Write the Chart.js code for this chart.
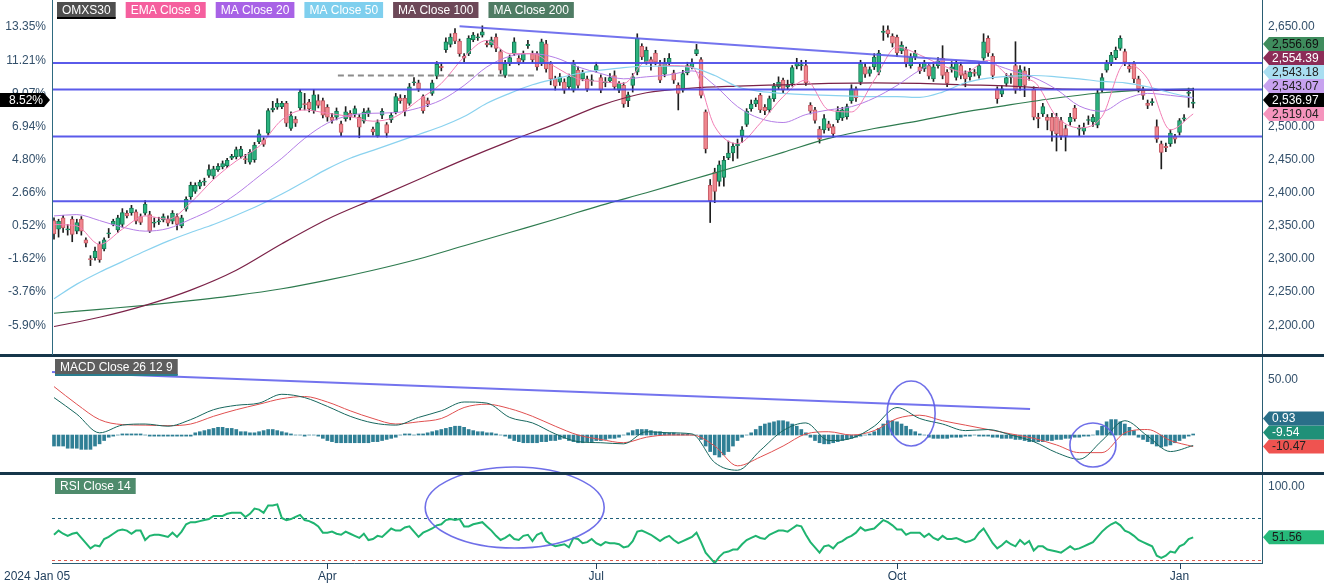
<!DOCTYPE html>
<html>
<head>
<meta charset="utf-8">
<script src="https://cdn.jsdelivr.net/npm/chart.js@4.4.1/dist/chart.umd.min.js"></script>
<style>
html, body { margin: 0; padding: 0; background: #fff; }
#wrap { position: relative; width: 1324px; height: 584px; }
</style>
</head>
<body>
<div id="wrap"><canvas id="chart" width="1324" height="584"></canvas></div>
<script>
// --- daily OMXS30 candles, 2024-01-05 .. 2025-01 (index = trading day) ---
const opens = [
2358,2345,2362,2344,2360,2342,2360,2329,2300,2302, 2322,2315,2338,2352,2344,2352,2369,2370,2371,2364,
2369,2367,2354,2356,2359,2360,2357,2364,2350,2375, 2394,2402,2410,2416,2426,2425,2435,2439,2441,2452,
2454,2455,2451,2446,2450,2477,2480,2490,2525,2529, 2530,2535,2497,2511,2528,2534,2537,2524,2539,2539,
2529,2514,2514,2504,2512,2520,2519,2514,2508,2519, 2496,2486,2517,2503,2510,2522,2543,2543,2535,2566,
2566,2545,2539,2550,2576,2591,2616,2624,2641,2629, 2606,2610,2631,2634,2638,2626,2623,2635,2613,2577,
2595,2610,2603,2600,2622,2610,2610,2595,2625,2594, 2572,2567,2567,2560,2555,2585,2572,2572,2569,2585,
2574,2566,2569,2577,2555,2562,2539,2562,2582,2621, 2597,2601,2611,2592,2579,2596,2581,2562,2555,2581,
2590,2610,2601,2522,2411,2431,2417,2423,2453,2460, 2471,2486,2503,2527,2534,2547,2529,2525,2542,2560,
2570,2560,2565,2591,2592,2592,2532,2525,2496,2495, 2504,2500,2510,2513,2515,2539,2557,2567,2590,2580,
2590,2582,2642,2646,2636,2635,2614,2616,2592,2605, 2590,2587,2592,2572,2592,2603,2582,2586,2574,2592,
2580,2575,2582,2577,2603,2633,2606,2557,2549,2565, 2574,2592,2560,2584,2575,2557,2514,2519,2514,2514,
2514,2509,2497,2507,2528,2496,2493,2509,2507,2502, 2555,2585,2595,2604,2618,2613,2591,2595,2572,2557,
2535,2536,2500,2474,2470,2474,2485,2491,2511,2550, 2535
];
const closes = [
2337.85,2357,2347,2345,2337,2355,2342,2324,2299,2312, 2299,2329,2339,2357,2362,2370,2365,2377,2357,2355,
2383,2342,2355,2357,2364,2354,2369,2352,2362,2390, 2411,2411,2416,2417,2435,2436,2440,2444,2449,2455,
2465,2466,2450,2461,2472,2489,2473,2524,2528,2535, 2535,2505,2516,2505,2552,2533,2527,2548,2532,2517,
2514,2509,2523,2491,2522,2514,2527,2499,2522,2524, 2492,2506,2523,2490,2517,2545,2539,2524,2560,2567,
2557,2524,2534,2566,2594,2589,2628,2635,2629,2610, 2603,2633,2638,2635,2643,2623,2631,2618,2585,2595,
2604,2628,2597,2610,2624,2601,2590,2628,2587,2572, 2561,2575,2555,2575,2595,2562,2581,2557,2570,2592,
2555,2567,2574,2560,2565,2534,2548,2575,2633,2605, 2615,2596,2597,2570,2596,2603,2570,2550,2580,2592,
2596,2616,2547,2466,2388,2402,2442,2449,2460,2470, 2473,2495,2523,2534,2540,2525,2524,2542,2561,2567,
2555,2563,2589,2596,2592,2566,2523,2509,2481,2512, 2498,2489,2524,2525,2530,2557,2543,2595,2579,2586,
2605,2611,2643,2640,2626,2611,2623,2595,2605,2611, 2584,2596,2576,2590,2599,2577,2565,2590,2596,2577,
2572,2582,2580,2592,2628,2611,2577,2542,2557,2574, 2577,2555,2586,2562,2577,2514,2512,2530,2509,2493,
2489,2486,2486,2514,2512,2496,2499,2509,2514,2550, 2574,2596,2608,2615,2633,2597,2587,2572,2557,2547,
2532,2537,2481,2461,2468,2490,2481,2509,2513,2552, 2536.97
];
const highs = [
2362,2360,2366,2352,2364,2360,2364,2332,2305,2318, 2326,2332,2346,2360,2366,2376,2373,2381,2374,2368,
2388,2372,2362,2363,2368,2365,2373,2368,2366,2394, 2416,2415,2419,2422,2442,2440,2444,2448,2452,2458,
2469,2470,2458,2465,2476,2495,2483,2527,2538,2542, 2538,2538,2522,2515,2556,2550,2541,2556,2548,2543,
2533,2520,2528,2508,2530,2524,2531,2518,2527,2528, 2499,2510,2527,2506,2521,2550,2548,2547,2565,2574,
2570,2548,2543,2570,2598,2596,2634,2640,2648,2632, 2610,2637,2642,2640,2652,2630,2635,2640,2616,2600,
2608,2634,2607,2614,2630,2614,2613,2632,2630,2598, 2576,2580,2572,2579,2600,2590,2585,2576,2578,2597,
2578,2574,2580,2584,2568,2566,2552,2580,2640,2625, 2620,2605,2615,2600,2603,2610,2585,2566,2585,2597,
2602,2624,2604,2525,2420,2437,2448,2455,2478,2475, 2481,2500,2527,2540,2543,2550,2533,2546,2565,2575,
2573,2570,2592,2603,2600,2600,2536,2529,2500,2518, 2508,2503,2530,2529,2534,2563,2560,2600,2595,2590,
2610,2615,2652,2652,2640,2638,2628,2620,2610,2615, 2594,2600,2595,2594,2604,2622,2586,2598,2600,2597,
2584,2588,2586,2597,2640,2637,2610,2560,2562,2580, 2580,2628,2592,2590,2588,2560,2520,2535,2518,2520,
2520,2514,2502,2520,2532,2502,2505,2516,2518,2555, 2580,2600,2612,2620,2637,2617,2596,2598,2576,2560,
2540,2542,2510,2478,2475,2495,2488,2512,2518,2558, 2558
];
const lows = [
2330,2333,2340,2336,2326,2338,2336,2318,2290,2298, 2295,2312,2332,2350,2340,2348,2362,2366,2353,2352,
2366,2340,2348,2352,2356,2350,2353,2344,2347,2372, 2390,2399,2406,2411,2423,2421,2432,2436,2438,2450,
2451,2452,2444,2443,2446,2474,2470,2487,2522,2526, 2527,2500,2494,2500,2525,2525,2522,2520,2528,2513,
2508,2505,2510,2486,2508,2510,2515,2483,2505,2515, 2487,2484,2512,2484,2506,2519,2535,2516,2532,2562,
2553,2520,2530,2547,2572,2584,2612,2620,2625,2606, 2598,2607,2628,2630,2635,2620,2620,2613,2580,2574,
2592,2607,2593,2597,2618,2597,2585,2592,2582,2563, 2555,2562,2550,2556,2552,2558,2569,2553,2562,2582,
2551,2560,2566,2556,2551,2529,2530,2552,2578,2601, 2594,2585,2593,2566,2575,2592,2565,2525,2552,2578,
2587,2607,2543,2460,2355,2385,2410,2410,2450,2448, 2452,2476,2500,2523,2530,2521,2518,2521,2538,2556,
2551,2556,2561,2587,2585,2562,2519,2505,2475,2490, 2494,2484,2506,2509,2511,2535,2538,2563,2574,2576,
2586,2578,2630,2635,2620,2606,2610,2590,2588,2601, 2580,2583,2572,2568,2588,2572,2560,2582,2570,2572,
2560,2570,2576,2573,2600,2606,2572,2535,2545,2561, 2565,2550,2555,2545,2570,2510,2498,2515,2495,2478,
2463,2480,2463,2502,2508,2486,2488,2503,2500,2498, 2552,2582,2592,2601,2615,2592,2582,2566,2552,2541,
2527,2532,2476,2436,2462,2470,2475,2487,2508,2529, 2528
];

// moving averages (every 5th / 10th trading day)
const step5 = [0,5,10,15,20,25,30,35,40,45,50,55,60,65,70,75,80,85,90,95,100,105,110,115,120,125,
  130,135,140,145,150,155,160,165,170,175,180,185,190,195,200,205,210,215,220,225,230,235,240,245,250];
const step10 = [0,10,20,30,40,50,60,70,80,90,100,110,120,130,140,150,160,170,180,190,200,210,220,230,240,250];
const ema9 = [2352,2350,2322,2345,2365,2360,2385,2420,2448,2470,2510,2525,2520,2515,2508,2515,2540,2565,
  2605,2630,2610,2610,2590,2572,2568,2565,2598,2592,2590,2500,2474,2505,2545,2570,2525,2522,2570,2620,
  2608,2592,2582,2600,2575,2568,2515,2498,2515,2595,2572,2495,2519.04];
const ma20 = [2365,2367,2358,2348,2342,2346,2360,2376,2398,2425,2452,2482,2505,2517,2520,2521,2528,2540,
  2562,2590,2606,2610,2604,2590,2580,2572,2575,2578,2584,2562,2530,2512,2506,2518,2525,2530,2543,2562,
  2585,2600,2600,2596,2585,2574,2556,2531,2523,2541,2550,2547,2543.07];
const ma50 = [2240,2262,2280,2296,2312,2327,2340,2352,2366,2381,2398,2417,2436,2452,2464,2476,2488,2500,
  2515,2535,2550,2563,2572,2580,2585,2589,2591,2591,2589,2577,2560,2553,2550,2548,2547,2546,2545,2545,
  2544,2552,2566,2573,2576,2577,2575,2572,2568,2566,2560,2551,2543.18];
const ma100 = [2198,2212,2230,2253,2283,2323,2360,2390,2420,2450,2478,2504,2532,2551,2558,2561,2563,2565,
  2566,2565,2563,2561,2557,2556,2555,2554.39];
const ma200 = [2218,2224,2230,2237,2245,2255,2268,2283,2300,2320,2340,2360,2381,2400,2420,2440,2461,2482,
  2497,2509,2522,2533,2543,2551,2555,2556.69];

// MACD 26 12 9
const macdLine = [34,19,2,9,10,8,14,23,27,29,37,34,26,17,11,9,16,22,30,29,16,11,1,-6,-7,-8,3,2,1,-25,
  -32,-14,4,11,-5,-3,8,25,15,10,4,5,0,-6,-16,-22,-5,13,-1,-15,-9.54];
const signalLine = [44,28,14,9.5,9,8.5,10,17,23,28,33,35,30,22,15,10,12,15,25,28,24,17,8,0,-4,-7,-2,0,0,
  -10,-28,-20,-10,1,3,0,4,15,18,13,9,5,1,-3,-9,-16,-16,2,5,-5,-10.47];
const macdHist = [
-10,-10,-10,-12,-12,-12,-13,-13,-13,-10,-8,-5,-2,-1,0,
1,1,1,1,1,0,-1,-1,-1,-1,-1,-1,-1,-1,-1,-1,
2,3,4,5,6,7,7,6,6,5, 3,3,2,2,3,4,5,5, 4,3,2,1, 0,0,-1,0,0,-1,
-3,-5,-6,-7,-7,-7,-7,-7,-7,-7,-7,-6,-6,-5,-4,-3,-2,
0,1,1,0,1,1,2, 3,4,5,6,7,8,8,7,5,4, 3,3,2,2,1,0,
-1,-3,-5,-6,-7,-7,-7,-7,-6,-6,-5,-5,-4,-3,
-5,-6,-7,-7,-6,-6,-5,-5,-4,-3,-3,-2,
0,2,4,5,5,5,4,3,3,2,2,2,1,1,1,0,0,
-4,-10,-15,-18,-20,-18,-15,-10,-5,-2,0,
2,5,8,10,11,12,13,13,12,10,8,5,2,
-2,-5,-7,-8,-8,-7,-6,-5,-4,-3,-2,-1,0,
1,3,6,10,13,13,12,10,8,5,3,1,0,
-2,-3,-3,-3,-3,-2,-2,-2,-1,-1,0,-1,-1,-1,-2,
-2,-3,-3,-3,-4,-4,-5,-6,-6,-6,-6,-5,-5,-4,-4,-3,-3,-2,-2,-1,-1,0,
4,8,12,14,14,12,10,7,4,
-2,-4,-6,-8,-10,-11,-10,-9,-7,-5,-3, -1,0.93
];

// RSI 14
const rsi = [
54,58,55,53,55,56,51,46,41,44, 43,50,52,55,58,59,58,55,58,58, 49,53,54,54,53,52,56,52,57,64,
66,66,67,68,69,72,72,72,74,75, 75,75,71,74,79,78,75,82,82,83, 70,68,69,71,73,68,67,65,62,56,
56,57,55,54,57,55,53,51,55,49, 50,53,52,56,60,58,58,61,62,57, 52,56,58,60,63,64,68,69,68,69,
62,62,64,65,66,62,58,53,49,51, 54,50,49,53,54,48,54,56,48,45, 43,44,45,42,51,50,46,47,50,46,
44,47,46,46,45,42,43,48,57,58,56, 54,51,48,51,53,49,46,48,50,52, 56,47,37,32,27,33,37,38,40,40,
45,49,51,53,51,50,54,56,58,58, 57,60,63,62,54,47,42,37,43,44, 41,46,48,51,53,56,61,58,59,60,
64,68,66,63,59,59,54,56,56,56, 52,55,51,49,53,50,50,51,49,47, 48,50,56,60,53,46,41,44,48,45,
43,49,45,48,39,43,43,40,39,38, 37,40,43,40,41,43,45,47,52,57, 61,64,66,63,58,56,53,49,47,45,
43,34,32,34,38,37,43,45,50,51.56
];

const xTickIdx = [0, 60, 119, 185, 247];
const xTickText = ['2024 Jan 05', 'Apr', 'Jul', 'Oct', 'Jan'];
const priceTicks = [2200, 2250, 2300, 2350, 2400, 2450, 2500, 2550, 2600, 2650];

// hand drawn studies on the chart
const levelLines = [2596, 2556, 2485, 2387];
const trendIdx = [89, 205];
const trendPrice = [2651.5, 2597];
const dashIdx = [62.3, 106.2];
const dashPrice = 2577;
const macdTrendIdx = [-0.44, 214.2];
const macdTrendVal = [57.3, 23.6];

const days = closes.map((c, i) => i);
const pts = (xs, ys) => xs.map((x, i) => ({ x: x, y: ys[i] }));
const fmt = v => v.toLocaleString('en-US', { minimumFractionDigits: 2, maximumFractionDigits: 2 });
const FONT = '"Liberation Sans", Arial, sans-serif';
const base = closes[0];

const up = closes.map((c, i) => c >= opens[i]);

function tag(ctx, x0, y, text, bg, fg) {
  const h = 14;
  ctx.fillStyle = bg;
  ctx.beginPath();
  ctx.moveTo(x0, y);
  ctx.lineTo(x0 + 6, y - h / 2);
  ctx.lineTo(1324, y - h / 2);
  ctx.lineTo(1324, y + h / 2);
  ctx.lineTo(x0 + 6, y + h / 2);
  ctx.closePath();
  ctx.fill();
  ctx.fillStyle = fg;
  ctx.textAlign = 'left';
  ctx.textBaseline = 'middle';
  ctx.fillText(text, x0 + 9, y + 0.5);
}

// stack labels upward from the lowest value so they never overlap
function stackTags(scale, items) {
  const s = items.slice().sort((a, b) => a.v - b.v);
  let prev = Infinity;
  s.forEach(t => {
    let y = scale.getPixelForValue(t.v);
    if (y > prev - 14) y = prev - 14;
    t.y = y;
    prev = y;
  });
  return s;
}

function box(ctx, x, y, text, bg, fg, under) {
  ctx.font = '12px ' + FONT;
  const w = ctx.measureText(text).width + 10;
  ctx.fillStyle = bg;
  ctx.fillRect(x, y, w, 16);
  if (under) { ctx.fillStyle = under; ctx.fillRect(x, y + 15, w, 2); }
  ctx.fillStyle = fg;
  ctx.textAlign = 'left';
  ctx.textBaseline = 'middle';
  ctx.fillText(text, x + 5, y + 8.5);
  return w;
}

const overlay = {
  id: 'overlay',
  beforeDatasetsDraw(chart) {
    const { ctx, chartArea: a, scales } = chart;
    ctx.save();
    ctx.lineWidth = 1;
    ctx.setLineDash([3, 3]);
    [[70, '#1d5f78'], [30, '#d65a4f']].forEach(([v, c]) => {
      const y = Math.round(scales.yR.getPixelForValue(v)) + 0.5;
      ctx.strokeStyle = c;
      ctx.beginPath(); ctx.moveTo(a.left, y); ctx.lineTo(a.right, y); ctx.stroke();
    });
    ctx.restore();
  },
  afterDatasetsDraw(chart) {
    const { ctx, chartArea: a, scales: { x, yP, yM, yR } } = chart;
    ctx.save();
    ctx.strokeStyle = 'rgba(72,72,232,0.9)';
    ctx.lineWidth = 2;
    levelLines.forEach(p => {
      const y = yP.getPixelForValue(p);
      ctx.beginPath(); ctx.moveTo(a.left, y); ctx.lineTo(a.right, y); ctx.stroke();
    });
    ctx.strokeStyle = 'rgba(90,90,235,0.85)';
    ctx.beginPath();
    ctx.moveTo(x.getPixelForValue(trendIdx[0]), yP.getPixelForValue(trendPrice[0]));
    ctx.lineTo(x.getPixelForValue(trendIdx[1]), yP.getPixelForValue(trendPrice[1]));
    ctx.stroke();
    ctx.beginPath();
    ctx.moveTo(x.getPixelForValue(macdTrendIdx[0]), yM.getPixelForValue(macdTrendVal[0]));
    ctx.lineTo(x.getPixelForValue(macdTrendIdx[1]), yM.getPixelForValue(macdTrendVal[1]));
    ctx.stroke();
    ctx.strokeStyle = '#8c8c8c';
    ctx.setLineDash([6, 4]);
    ctx.beginPath();
    ctx.moveTo(x.getPixelForValue(dashIdx[0]), yP.getPixelForValue(dashPrice));
    ctx.lineTo(x.getPixelForValue(dashIdx[1]), yP.getPixelForValue(dashPrice));
    ctx.stroke();
    ctx.setLineDash([]);
    ctx.strokeStyle = 'rgba(95,95,230,0.9)';
    ctx.lineWidth = 1.6;
    [[yM, 188.1, 19.5, 24, 32.5], [yM, 228, -9.1, 23, 22], [yR, 101.1, 80, 89.5, 40.5]].forEach(([s, i, v, rx, ry]) => {
      ctx.beginPath();
      ctx.ellipse(x.getPixelForValue(i), s.getPixelForValue(v), rx, ry, 0, 0, Math.PI * 2);
      ctx.stroke();
    });
    ctx.restore();
  },
  afterDraw(chart) {
    const { ctx, chartArea: a, scales: { x, yP, yM, yR } } = chart;
    ctx.save();
    // panel separators and axis lines
    ctx.fillStyle = '#16364a';
    ctx.fillRect(0, yP.bottom - 1, 1324, 3);
    ctx.fillRect(0, yM.bottom - 1, 1324, 3);
    ctx.fillStyle = '#2e6a80';
    ctx.fillRect(a.left, 0, 1, yP.bottom);

    // left percentage axis
    ctx.font = '12px ' + FONT;
    ctx.fillStyle = '#33506b';
    ctx.textAlign = 'right';
    ctx.textBaseline = 'middle';
    priceTicks.forEach(p => {
      ctx.fillText(((p / base - 1) * 100).toFixed(2) + '%', 46, yP.getPixelForValue(p));
    });

    // x labels and tick marks
    ctx.fillStyle = '#22405e';
    ctx.textBaseline = 'middle';
    xTickIdx.forEach((i, k) => {
      const px = x.getPixelForValue(i);
      if (k === 0) {
        ctx.textAlign = 'left';
        ctx.fillText(xTickText[k], 4, 577);
      } else {
        ctx.textAlign = 'center';
        ctx.fillText(xTickText[k], px, 577);
        ctx.fillRect(Math.round(px), a.bottom, 1, 6);
      }
    });

    // price tags on the right
    const last = closes.length - 1;
    const pTags = stackTags(yP, [
      { v: ma200[ma200.length - 1], bg: '#3f8c5d', fg: '#111' },
      { v: ma100[ma100.length - 1], bg: '#8c2c57', fg: '#fff' },
      { v: ma50[ma50.length - 1], bg: '#a9def1', fg: '#222' },
      { v: ma20[ma20.length - 1], bg: '#c7a2ef', fg: '#222' },
      { v: closes[last], bg: '#000', fg: '#fff', main: true },
      { v: ema9[ema9.length - 1], bg: '#f594bd', fg: '#222' }
    ]);
    ctx.font = '12px ' + FONT;
    pTags.forEach(t => {
      tag(ctx, a.right + 1, t.y, fmt(t.v), t.bg, t.fg);
      if (t.main) {
        // matching percent tag on the left
        ctx.fillStyle = '#000';
        ctx.beginPath();
        ctx.moveTo(0, t.y - 7); ctx.lineTo(44, t.y - 7); ctx.lineTo(50, t.y);
        ctx.lineTo(44, t.y + 7); ctx.lineTo(0, t.y + 7); ctx.closePath(); ctx.fill();
        ctx.fillStyle = '#fff';
        ctx.textAlign = 'right';
        ctx.fillText(((t.v / base - 1) * 100).toFixed(2) + '%', 43, t.y + 0.5);
      }
    });
    const mTags = stackTags(yM, [
      { v: macdHist[last], bg: '#2a6f89', fg: '#fff' },
      { v: macdLine[macdLine.length - 1], bg: '#1f9078', fg: '#fff' },
      { v: signalLine[signalLine.length - 1], bg: '#ef5350', fg: '#222' }
    ]);
    mTags.forEach(t => tag(ctx, a.right + 1, t.y, fmt(t.v), t.bg, t.fg));
    tag(ctx, a.right + 1, yR.getPixelForValue(rsi[last]), fmt(rsi[last]), '#26b97a', '#1a1a1a');

    // legend boxes and panel titles
    let lx = 57;
    [['OMXS30', '#4f4f4f', '#000'], ['EMA Close 9', '#f55f9e'], ['MA Close 20', '#a862e6'],
     ['MA Close 50', '#7fcfee'], ['MA Close 100', '#6d4858'], ['MA Close 200', '#4f7c64']].forEach(([t, bg, u]) => {
      lx += box(ctx, lx, 2, t, bg, '#fff', u) + 10;
    });
    box(ctx, a.left + 3, yM.top + 4, 'MACD Close 26 12 9', '#5e5e5e', '#fff', '#2b7d8e');
    box(ctx, a.left + 3, yR.top + 5, 'RSI Close 14', '#4e8b6c', '#fff');
    ctx.restore();
  }
};

const rightAxis = (weight, min, max, ticks) => ({
  type: 'linear',
  position: 'right',
  stack: 'panels',
  stackWeight: weight,
  min: min,
  max: max,
  grid: { display: false, drawTicks: false },
  border: { display: true, color: '#2a5d73', width: 1 },
  ticks: {
    color: '#33506b',
    padding: 6,
    font: { size: 12, family: FONT },
    callback: v => fmt(v)
  },
  afterBuildTicks: s => { s.ticks = ticks.map(v => ({ value: v })); },
  afterFit: s => { s.width = 62; s.paddingTop = 0; s.paddingBottom = 0; }
});

new Chart(document.getElementById('chart'), {
  type: 'bar',
  data: {
    datasets: [
      { type: 'line', label: 'EMA Close 9', data: pts(step5, ema9), yAxisID: 'yP', borderColor: '#f27eb4',
        borderWidth: 1, pointRadius: 0, cubicInterpolationMode: 'monotone', order: 1 },
      { type: 'line', label: 'MA Close 20', data: pts(step5, ma20), yAxisID: 'yP', borderColor: '#b47ee6',
        borderWidth: 1, pointRadius: 0, cubicInterpolationMode: 'monotone', order: 1 },
      { type: 'line', label: 'MA Close 50', data: pts(step5, ma50), yAxisID: 'yP', borderColor: '#8ad2ef',
        borderWidth: 1.2, pointRadius: 0, cubicInterpolationMode: 'monotone', order: 1 },
      { type: 'line', label: 'MA Close 100', data: pts(step10, ma100), yAxisID: 'yP', borderColor: '#7b2248',
        borderWidth: 1.2, pointRadius: 0, cubicInterpolationMode: 'monotone', order: 1 },
      { type: 'line', label: 'MA Close 200', data: pts(step10, ma200), yAxisID: 'yP', borderColor: '#2e7b4f',
        borderWidth: 1.2, pointRadius: 0, cubicInterpolationMode: 'monotone', order: 1 },
      { label: 'wick', data: days.map(i => ({ x: i, y: [lows[i], highs[i]] })), yAxisID: 'yP',
        backgroundColor: '#1e1e1e', barThickness: 1, grouped: false, order: 3 },
      { label: 'OMXS30', data: days.map(i => ({ x: i, y: [opens[i], closes[i]] })), yAxisID: 'yP',
        backgroundColor: up.map(u => u ? '#2bb27e' : '#f0868e'),
        borderColor: up.map(u => u ? '#177a56' : '#c45a64'),
        borderWidth: 1, borderSkipped: false, barThickness: 4, minBarLength: 1, grouped: false, order: 2 },
      { label: 'hist', data: pts(days, macdHist), yAxisID: 'yM', backgroundColor: '#2f7f95',
        barThickness: 3, grouped: false, order: 3 },
      { type: 'line', label: 'MACD', data: pts(step5, macdLine), yAxisID: 'yM', borderColor: '#17675e',
        borderWidth: 1, pointRadius: 0, cubicInterpolationMode: 'monotone', order: 1 },
      { type: 'line', label: 'Signal', data: pts(step5, signalLine), yAxisID: 'yM', borderColor: '#e05050',
        borderWidth: 1, pointRadius: 0, cubicInterpolationMode: 'monotone', order: 1 },
      { type: 'line', label: 'RSI', data: pts(days, rsi), yAxisID: 'yR', borderColor: '#1fb470',
        borderWidth: 2, pointRadius: 0, tension: 0, order: 1 }
    ]
  },
  options: {
    responsive: false,
    animation: false,
    devicePixelRatio: 1,
    events: [],
    layout: { padding: { left: 52, right: 0, top: 0, bottom: 0 } },
    plugins: { legend: { display: false }, tooltip: { enabled: false } },
    scales: {
      x: {
        type: 'linear',
        position: 'bottom',
        min: -0.44,
        max: 265.1,
        offset: false,
        grid: { display: false, drawTicks: false },
        border: { display: true, color: '#2a5d73', width: 1 },
        ticks: { display: false },
        afterFit: s => { s.height = 21; s.paddingLeft = 0; s.paddingRight = 0; }
      },
      yP: rightAxis(355, 2155, 2691, priceTicks),
      yM: rightAxis(118, -34.5, 72.7, [0, 50]),
      yR: rightAxis(90, 27.1, 112.9, [50, 100])
    }
  },
  plugins: [overlay]
});
</script>
</body>
</html>
